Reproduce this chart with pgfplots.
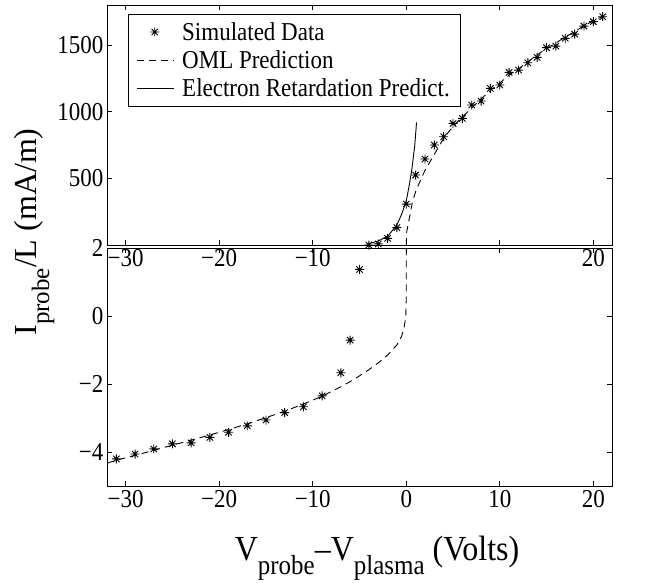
\documentclass[border=0pt]{standalone}
\usepackage{pgfplots}
\pgfplotsset{compat=1.18}
\usepackage{fontspec}
\setmainfont{Liberation Serif}

\pgfdeclareplotmark{mstar}{%
  \pgfpathmoveto{\pgfqpoint{-\pgfplotmarksize}{0pt}}\pgfpathlineto{\pgfqpoint{\pgfplotmarksize}{0pt}}%
  \pgfpathmoveto{\pgfqpoint{0pt}{-\pgfplotmarksize}}\pgfpathlineto{\pgfqpoint{0pt}{\pgfplotmarksize}}%
  \pgfpathmoveto{\pgfqpoint{-.707\pgfplotmarksize}{-.707\pgfplotmarksize}}\pgfpathlineto{\pgfqpoint{.707\pgfplotmarksize}{.707\pgfplotmarksize}}%
  \pgfpathmoveto{\pgfqpoint{-.707\pgfplotmarksize}{.707\pgfplotmarksize}}\pgfpathlineto{\pgfqpoint{.707\pgfplotmarksize}{-.707\pgfplotmarksize}}%
  \pgfusepathqstroke}

\newcommand{\tickfont}{\fontsize{23}{26}\selectfont}
\newcommand{\labfont}{\fontsize{32}{36}\selectfont}
\newcommand{\subfont}{\fontsize{25}{28}\selectfont}
\newcommand{\tall}[1]{\scalebox{1}[1.12]{#1}}

\pgfplotsset{
  simdata/.style={black, only marks, mark=mstar, mark size=4.5pt, line width=0.9pt,
    legend image code/.code={\draw[##1] plot coordinates {(18pt,0pt)};}},
  oml/.style={black, dash pattern=on 7pt off 5pt, line width=0.9pt, mark=none,
    legend image code/.code={\draw[##1] (0pt,0pt) -- (37pt,0pt);}},
  eret/.style={black, solid, line width=0.9pt, mark=none,
    legend image code/.code={\draw[##1] (0pt,0pt) -- (37pt,0pt);}},
}

\begin{document}
\begin{tikzpicture}[x=1pt,y=1pt]
\useasboundingbox (0,-582) rectangle (663,0);
\pgfplotsset{
  every axis/.append style={
    scale only axis, xmin=-32, xmax=22, clip=false,
    tick align=inside, major tick length=5pt,
    /pgf/number format/assume math mode=true,
    tick label style={font=\tickfont, yscale=1.12},
    axis line style={line width=0.8pt},
    every tick/.style={black, line width=0.6pt},
  },
}
% ---------- top panel ----------
\begin{axis}[at={(107pt,-5pt)}, anchor=north west, width=505pt, height=240pt,
  ymin=0, ymax=1800, ytick={500,1000,1500}, yticklabels={500,1000,1500},
  xtick={-30,-20,-10,0,10,20}, xticklabels={−30,−20,−10,{},{},20},
  legend style={at={(rel axis cs:0.0416,0.9625)}, anchor=north west,
    font=\tickfont, draw=black, line width=0.6pt, inner xsep=8pt, inner ysep=6pt,
    row sep=5pt, column sep=6pt, cells={anchor=west}},
  legend cell align=left,
]
\addplot[simdata] coordinates {
(-4,0) (-3,8) (-2,50) (-1,130) (0,307) (1,525) (2,645) (3,750) (4,812) (5,912)
(6,950) (7,1050) (8,1080) (9,1175) (10,1200) (11,1295) (12,1312) (13,1367)
(14,1407) (15,1480) (16,1492) (17,1550) (18,1582) (19,1642) (20,1675) (21,1712)};
\addlegendentry{\tall{Simulated Data}}
\addplot[oml] coordinates {
(0,0) (0.05,100) (0.3,190) (0.65,320) (1,400) (1.33,455) (2,560) (3,680) (4,800)
(5,890) (6,960) (7,1030) (8,1095) (9,1160) (10,1215) (11,1275) (12,1320)
(13,1375) (14,1425) (15,1475) (16,1515) (17,1560) (18,1600) (19,1645) (20,1680) (21,1715)};
\addlegendentry{\tall{OML Prediction}}
\addplot[eret] coordinates {
(-4,10) (-3,30) (-2,65) (-1,150) (-0.5,230) (0,330) (0.3,440) (0.6,570) (0.9,740) (1.1,920)};
\addlegendentry{\tall{Electron Retardation Predict.}}
\end{axis}
% ---------- bottom panel ----------
\begin{axis}[at={(107pt,-248pt)}, anchor=north west, width=505pt, height=238pt,
  ymin=-5, ymax=2, ytick={-4,-2,0,2}, yticklabels={−4,−2,0,2},
  xtick={-30,-20,-10,0,10,20}, xticklabels={−30,−20,−10,0,10,20},
]
\addplot[simdata] coordinates {
(-31,-4.2) (-29,-4.06) (-27,-3.91) (-25,-3.76) (-23,-3.73) (-21,-3.57) (-19,-3.42)
(-17,-3.23) (-15,-3.06) (-13,-2.84) (-11,-2.67) (-9,-2.35) (-7,-1.67) (-6,-0.71) (-5,1.37)};
\addplot[oml] coordinates {
(-32,-4.33) (-31,-4.24) (-29,-4.1) (-27,-3.95) (-25,-3.8) (-23,-3.65) (-21,-3.5)
(-19,-3.34) (-17,-3.17) (-15,-2.99) (-13,-2.8) (-11,-2.59) (-9,-2.36) (-8,-2.22)
(-7,-2.08) (-6,-1.93) (-5,-1.76) (-4,-1.58) (-3,-1.38) (-2,-1.15) (-1,-0.85)
(-0.5,-0.6) (-0.2,-0.3) (-0.05,0) (0,0.5) (0,2)};
\end{axis}
% ---------- axis labels ----------
\node[anchor=base, inner sep=0pt, yscale=1.1] at (377,-560)
  {\labfont V\raisebox{-13pt}{\subfont probe}–V\raisebox{-13pt}{\subfont plasma} (Volts)};
\node[anchor=base, rotate=90, inner sep=0pt] at (36,-232)
  {\labfont I\raisebox{-13pt}{\subfont probe}/L (mA/m)};
\end{tikzpicture}
\end{document}
